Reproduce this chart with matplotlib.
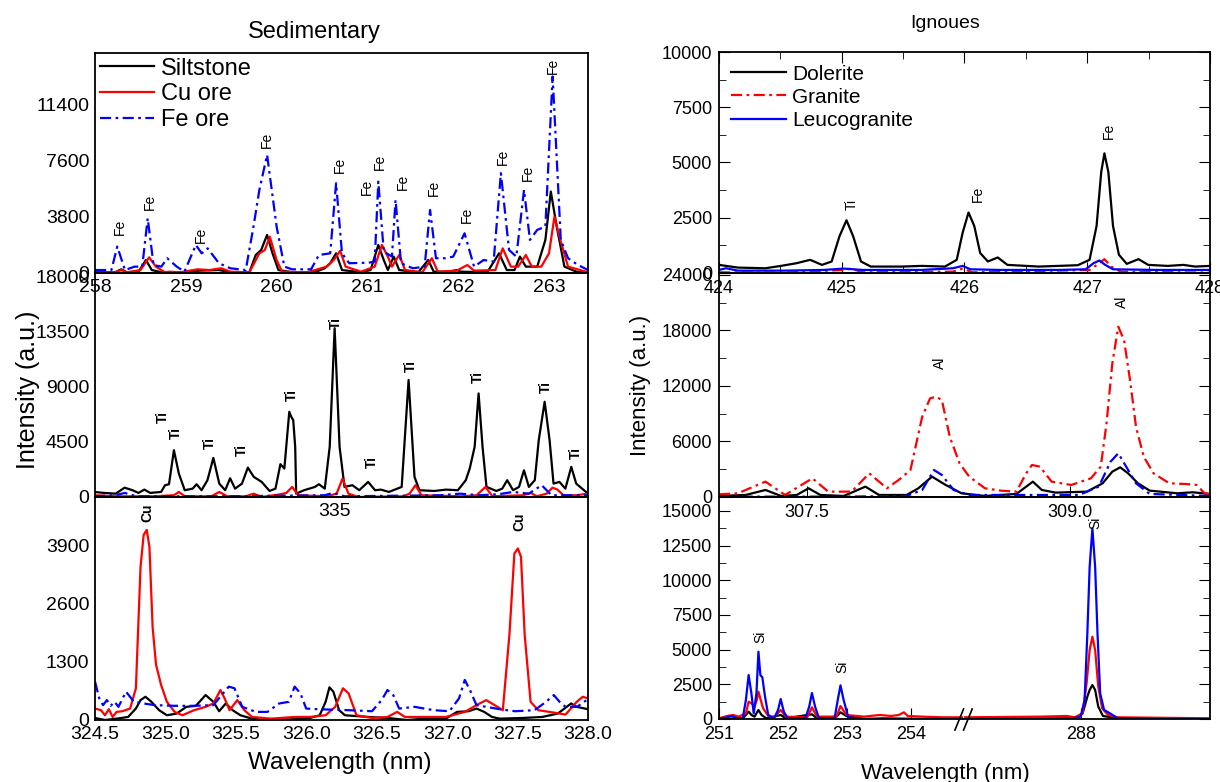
import matplotlib
matplotlib.use('Agg')
import matplotlib.pyplot as plt
from matplotlib.ticker import MultipleLocator, FixedLocator, FormatStrFormatter

plt.rcParams['font.family'] = ['Liberation Sans', 'DejaVu Sans']

# ---------------- Sedimentary : Fe region (258-263.4 nm) ----------------
fe_wl_silt = [258.0, 258.22, 258.29, 258.35, 258.48, 258.56, 258.625, 258.73, 258.985, 259.15,
              259.365, 259.49, 259.70, 259.77, 259.83, 259.895, 259.955, 260.02, 260.17, 260.42,
              260.53, 260.59, 260.655, 260.72, 260.93, 261.035, 261.12, 261.18, 261.225, 261.29,
              261.35, 261.56, 261.67, 261.73, 261.90, 261.985, 262.03, 262.32, 262.45, 262.535,
              262.62, 262.68, 262.745, 262.87, 262.96, 263.02, 263.085, 263.17, 263.30, 263.43]
fe_int_silt = [50, 50, 250, 50, 90, 880, 200, 50, 50, 160,
               200, 50, 50, 1220, 1560, 2580, 1330, 200, 50, 50,
               320, 660, 1330, 200, 50, 200, 1900, 880, 200, 1110,
               200, 50, 880, 90, 90, 200, 90, 50, 1330, 200,
               200, 1110, 430, 430, 2240, 5520, 3140, 430, 90, 0]

fe_wl_cu = [258.0, 258.22, 258.29, 258.35, 258.50, 258.596, 258.67, 258.77, 258.815, 258.94,
            259.13, 259.26, 259.39, 259.49, 259.70, 259.81, 259.87, 259.925, 260.0, 260.06,
            260.34, 260.55, 260.63, 260.70, 260.76, 260.93, 261.08, 261.16, 261.225, 261.27,
            261.35, 261.415, 261.605, 261.71, 261.775, 261.985, 262.10, 262.175, 262.41, 262.49,
            262.58, 262.66, 262.745, 262.81, 262.915, 263.0, 263.06, 263.125, 263.21, 263.43]
fe_int_cu = [0, 50, 200, 50, 200, 1060, 430, 50, 90, 50,
             250, 200, 320, 90, 50, 1330, 1560, 2460, 880, 90,
             50, 430, 880, 1510, 430, 90, 430, 1900, 1110, 430,
             1220, 200, 50, 1000, 90, 160, 540, 160, 200, 1670,
             430, 430, 1220, 430, 430, 1330, 3820, 2240, 430, 50]

fe_wl_fe = [258.0, 258.18, 258.245, 258.33, 258.435, 258.52, 258.58, 258.645, 258.73, 258.795,
            258.90, 258.985, 259.11, 259.175, 259.24, 259.365, 259.49, 259.66, 259.745, 259.81,
            259.895, 260.0, 260.085, 260.17, 260.38, 260.465, 260.59, 260.655, 260.72, 260.80,
            261.015, 261.08, 261.12, 261.18, 261.27, 261.31, 261.37, 261.50, 261.63, 261.69,
            261.755, 261.86, 261.945, 262.07, 262.175, 262.28, 262.39, 262.47, 262.56, 262.64,
            262.725, 262.79, 262.87, 262.96, 263.04, 263.13, 263.21, 263.32, 263.43]
fe_int_fe = [200, 200, 1790, 200, 430, 430, 3710, 540, 430, 1000,
             430, 90, 1900, 1330, 1670, 660, 320, 200, 3140, 5630,
             8000, 3140, 430, 250, 250, 1220, 1330, 6080, 1330, 660,
             700, 770, 6190, 1450, 1110, 4950, 660, 320, 430, 4270,
             1000, 1000, 1110, 2690, 430, 880, 770, 6760, 1560, 1110,
             5630, 2240, 2920, 3140, 13310, 2240, 1000, 540, 200]

fe_lbl_x = [258.27, 258.60, 259.17, 259.89, 260.70, 260.99, 261.14, 261.39, 261.73, 262.09, 262.49, 262.77, 263.04]
fe_lbl_y = [3140, 4840, 2580, 9020, 7330, 5860, 7550, 6200, 5750, 3940, 7890, 6760, 14000]

# ---------------- Sedimentary : Ti region (around 335 nm) ----------------
ti_wl_silt = [332.56, 332.66, 332.78, 332.87, 332.95, 333.01, 333.07, 333.13, 333.24, 333.28,
              333.32, 333.37, 333.42, 333.48, 333.56, 333.60, 333.65, 333.71, 333.77, 333.83,
              333.89, 333.94, 333.99, 334.06, 334.12, 334.18, 334.26, 334.34, 334.40, 334.45,
              334.49, 334.54, 334.56, 334.58, 334.60, 334.61, 334.69, 334.80, 334.84, 334.90,
              334.95, 335.0, 335.05, 335.10, 335.18, 335.25, 335.34, 335.41, 335.47, 335.55,
              335.68, 335.75, 335.81, 335.86, 336.01, 336.13, 336.25, 336.33, 336.37, 336.42,
              336.46, 336.50, 336.54, 336.64, 336.70, 336.75, 336.81, 336.87, 336.92, 336.97,
              337.03, 337.07, 337.13, 337.18, 337.22, 337.28, 337.34, 337.40, 337.45, 337.57]
ti_int_silt = [410, 330, 270, 760, 550, 330, 600, 330, 410, 960,
               1040, 3820, 1910, 550, 680, 1040, 550, 1370, 3190, 1090,
               550, 1530, 680, 1090, 2400, 1640, 1230, 490, 680, 2680,
               2320, 6960, 6550, 6280, 4100, 270, 550, 820, 1040, 680,
               4100, 13790, 4100, 820, 960, 550, 1230, 550, 600, 410,
               820, 9560, 1640, 550, 490, 600, 550, 1370, 2320, 4100,
               8460, 4100, 820, 490, 680, 1370, 550, 820, 2180, 820,
               1370, 4640, 7780, 4640, 1090, 1230, 680, 2460, 1090, 270]

ti_wl_cu = [332.56, 332.78, 333.17, 333.37, 333.42, 333.48, 333.75, 333.83, 333.91, 334.10,
            334.18, 334.26, 334.45, 334.51, 334.57, 334.63, 334.92, 335.02, 335.08, 335.14,
            335.24, 335.70, 335.76, 335.82, 335.88, 336.29, 336.44, 336.53, 336.60, 336.91,
            336.99, 337.05, 337.15, 337.21, 337.26, 337.32, 337.45, 337.57]
ti_int_cu = [140, 55, 55, 140, 410, 55, 55, 410, 55, 55,
             270, 0, 220, 330, 820, 140, 55, 270, 1500, 270,
             0, 55, 270, 960, 140, 55, 140, 820, 55, 140,
             330, 55, 270, 760, 600, 140, 140, 270]

ti_wl_fe = [332.56, 332.78, 332.87, 332.99, 333.93, 334.90, 334.98, 335.10, 336.08, 336.27,
            336.47, 336.66, 336.81, 336.97, 337.10, 337.20, 337.57]
ti_int_fe = [55, 140, 330, 55, 55, 140, 330, 55, 140, 270,
             140, 220, 410, 270, 960, 140, 140]

ti_lbl_x = [333.26, 333.39, 333.73, 334.06, 334.57, 335.01, 335.38, 335.77, 336.45, 337.14, 337.45]
ti_lbl_y = [6570, 5210, 4390, 3850, 8350, 14200, 2890, 10720, 9840, 9020, 3570]

# ---------------- Sedimentary : Cu region (324.5-328 nm) ----------------
cu_wl_silt = [324.50, 324.57, 324.653, 324.735, 324.79, 324.823, 324.858, 324.90, 324.955, 325.01,
              325.079, 325.148, 325.216, 325.285, 325.34, 325.381, 325.428, 325.477, 325.532, 325.614,
              325.696, 325.889, 326.026, 326.095, 326.137, 326.164, 326.192, 326.233, 326.274, 326.439,
              326.576, 326.714, 326.85, 326.99, 327.07, 327.153, 327.208, 327.263, 327.318, 327.373,
              327.537, 327.675, 327.785, 327.88, 327.92, 328.0]
cu_int_silt = [45, 0, 30, 68, 256, 445, 520, 407, 219, 106,
               143, 294, 317, 558, 407, 196, 369, 219, 106, 30,
               0, 15, 45, 106, 407, 731, 633, 219, 106, 68,
               45, 0, 30, 30, 181, 196, 256, 181, 68, 30,
               45, 68, 143, 369, 294, 241]

cu_wl_cu = [324.50, 324.543, 324.57, 324.598, 324.625, 324.653, 324.694, 324.749, 324.79, 324.823,
            324.845, 324.867, 324.886, 324.909, 324.933, 324.969, 325.01, 325.065, 325.12, 325.203,
            325.285, 325.34, 325.39, 325.42, 325.455, 325.51, 325.56, 325.614, 325.75, 325.916,
            326.026, 326.137, 326.205, 326.26, 326.30, 326.356, 326.466, 326.576, 326.645, 326.70,
            326.85, 326.99, 327.125, 327.208, 327.277, 327.345, 327.395, 327.442, 327.477, 327.502,
            327.524, 327.55, 327.592, 327.647, 327.757, 327.84, 327.92, 327.963, 328.0]
cu_int_cu = [256, 219, 106, 241, 68, 181, 196, 256, 709, 3423,
             4140, 4253, 3876, 2066, 1237, 784, 407, 181, 106, 219,
             294, 369, 671, 482, 219, 445, 219, 68, 30, 68,
             68, 106, 294, 709, 596, 106, 45, 68, 181, 68,
             68, 68, 181, 332, 445, 317, 219, 1915, 3725, 3838,
             3649, 1915, 407, 219, 166, 121, 407, 520, 483]

cu_wl_fe = [324.50, 324.53, 324.557, 324.584, 324.611, 324.639, 324.666, 324.72, 324.776, 324.845,
            324.927, 325.065, 325.203, 325.34, 325.409, 325.45, 325.49, 325.545, 325.642, 325.724,
            325.807, 325.876, 325.917, 325.958, 325.999, 326.081, 326.301, 326.466, 326.535, 326.576,
            326.617, 326.659, 326.768, 326.906, 327.016, 327.084, 327.125, 327.167, 327.208, 327.373,
            327.483, 327.620, 327.702, 327.757, 327.798, 327.84, 327.922, 328.0]
cu_int_fe = [860, 483, 332, 445, 317, 407, 294, 633, 407, 369,
             332, 317, 317, 332, 596, 747, 709, 294, 181, 181,
             369, 407, 747, 596, 256, 241, 219, 196, 445, 671,
             558, 256, 294, 219, 196, 483, 897, 633, 332, 241,
             196, 219, 407, 558, 407, 294, 294, 467]

cu_lbl_x = [324.87, 327.51]
cu_lbl_y = [4630, 4440]

# ---------------- Igneous : 424-428 nm ----------------
ig_wl_dol = [424.0, 424.154, 424.377, 424.505, 424.632, 424.743, 424.839, 424.918, 424.982, 425.039,
             425.093, 425.157, 425.237, 425.491, 425.65, 425.841, 425.937, 425.985, 426.033, 426.08,
             426.128, 426.191, 426.271, 426.35, 426.605, 426.923, 427.019, 427.076, 427.114, 427.14,
             427.172, 427.21, 427.258, 427.322, 427.417, 427.497, 427.656, 427.783, 427.879, 428.0]
ig_int_dol = [367, 245, 214, 321, 443, 596, 367, 520, 1667, 2385,
              1667, 520, 291, 291, 321, 291, 596, 1820, 2737, 2125,
              902, 520, 703, 367, 291, 352, 596, 2125, 4572, 5413,
              4572, 2125, 826, 413, 627, 367, 321, 367, 291, 321]

ig_wl_gra = [424.0, 424.536, 425.014, 425.078, 425.173, 425.905, 425.985, 426.065, 427.019, 427.099,
             427.14, 427.194, 427.274, 428.0]
ig_int_gra = [31, 15, 138, 199, 31, 61, 199, 31, 138, 443,
              627, 291, 61, 15]

ig_wl_leu = [424.0, 424.058, 424.154, 424.536, 424.855, 425.014, 425.173, 425.65, 425.905, 425.985,
             426.049, 426.288, 426.765, 426.988, 427.051, 427.099, 427.147, 427.21, 427.561, 428.0]
ig_int_leu = [138, 214, 107, 107, 138, 199, 138, 138, 214, 321,
              168, 138, 138, 168, 443, 566, 367, 168, 138, 138]

ig_lbl_text = ['Ti', 'Fe', 'Fe']
ig_lbl_x = [425.08, 426.11, 427.18]
ig_lbl_y = [3120, 3580, 6420]

# ---------------- Igneous : Al region (307-309.8 nm) ----------------
al_wl_dol = [307.0, 307.153, 307.265, 307.354, 307.444, 307.511, 307.578, 307.712, 307.835, 307.913,
             308.07, 308.137, 308.215, 308.293, 308.383, 308.517, 308.696, 308.752, 308.79, 308.841,
             308.92, 309.098, 309.188, 309.243, 309.288, 309.333, 309.389, 309.456, 309.613, 309.702, 309.8]
al_int_dol = [108, 216, 756, 108, 216, 936, 216, 108, 1116, 216,
              216, 936, 2196, 1296, 396, 108, 324, 1116, 1656, 756,
              468, 576, 1476, 2736, 3204, 2556, 1476, 684, 396, 504, 324]

al_wl_gra = [307.0, 307.108, 307.265, 307.377, 307.533, 307.623, 307.757, 307.857, 307.958, 308.025,
             308.092, 308.159, 308.204, 308.237, 308.271, 308.316, 308.372, 308.427, 308.517, 308.606,
             308.696, 308.752, 308.785, 308.83, 308.897, 309.009, 309.121, 309.177, 309.21, 309.243,
             309.277, 309.31, 309.344, 309.378, 309.422, 309.478, 309.568, 309.657, 309.724, 309.769, 309.8]
al_int_gra = [288, 396, 1656, 216, 2016, 576, 576, 2556, 936, 1836,
              2916, 8676, 10656, 10836, 10476, 6516, 3636, 2196, 936, 684,
              576, 2556, 3456, 3276, 1656, 1296, 2016, 3276, 7956, 14436,
              18396, 16956, 12636, 7596, 4356, 2556, 1476, 1404, 1296, 396, 288]

al_wl_leu = [307.0, 307.712, 308.07, 308.159, 308.226, 308.271, 308.338, 308.427, 308.83, 309.054,
             309.166, 309.233, 309.277, 309.322, 309.378, 309.456, 309.8]
al_int_leu = [36, 36, 108, 756, 2916, 2376, 756, 216, 216, 216,
              1116, 3816, 4716, 3276, 1476, 324, 108]

al_lbl_x = [308.26, 309.30]
al_lbl_y = [14490, 21100]

# ---------------- Igneous : Si region (broken axis 251-254.8 | 286.2-290) ----------------
si_wl_dol = [251.0, 251.372, 251.421, 251.464, 251.507, 251.556, 251.617, 251.666, 251.739, 251.965,
             252.044, 252.453, 252.532, 252.838, 252.899, 252.99, 253.265, 254.8,
             286.16, 287.902, 288.026, 288.099, 288.135, 288.178, 288.221, 288.27, 288.343, 288.575, 290.0]
si_int_dol = [0, 48, 288, 528, 288, 168, 648, 288, 48, 288,
              48, 336, 48, 168, 480, 216, 0, 0,
              0, 48, 408, 1608, 2088, 2448, 2088, 888, 216, 48, 0]

si_wl_gra = [251.0, 251.128, 251.22, 251.311, 251.421, 251.464, 251.507, 251.556, 251.592, 251.617,
             251.653, 251.69, 251.77, 251.861, 251.965, 252.044, 252.38, 252.453, 252.532, 252.838,
             252.899, 252.99, 253.265, 253.51, 253.69, 253.81, 253.89, 253.95, 254.18, 254.49, 254.8,
             286.16, 287.353, 287.78, 287.902, 288.026, 288.087, 288.135, 288.178, 288.221, 288.27,
             288.331, 288.422, 288.575, 290.0]
si_int_gra = [48, 216, 288, 168, 408, 1248, 1128, 888, 1368, 1968,
              1368, 768, 216, 120, 648, 168, 120, 840, 168, 168,
              936, 288, 168, 288, 216, 288, 480, 216, 168, 120, 120,
              120, 168, 216, 120, 408, 2568, 4968, 5928, 4968, 2328,
              768, 288, 120, 48]

si_wl_leu = [251.0, 251.128, 251.20, 251.28, 251.372, 251.421, 251.464, 251.507, 251.543, 251.586,
             251.617, 251.647, 251.678, 251.72, 251.77, 251.861, 251.923, 251.965, 252.013, 252.075,
             252.35, 252.41, 252.453, 252.502, 252.563, 252.807, 252.856, 252.899, 252.948, 253.02,
             253.265, 253.57, 254.18, 254.8,
             286.16, 287.84, 287.995, 288.056, 288.099, 288.135, 288.178, 288.221, 288.258, 288.30,
             288.361, 288.453, 288.575, 289.186, 290.0]
si_int_leu = [0, 120, 216, 48, 48, 1368, 3168, 1848, 408, 1848,
              4848, 3168, 3000, 1608, 288, 48, 648, 1440, 528, 48,
              48, 888, 1872, 888, 48, 48, 1368, 2424, 1368, 120,
              0, 48, 0, 0,
              0, 0, 168, 1368, 6168, 10968, 13728, 10968, 6168, 1848,
              648, 408, 48, 0, 0]

si_lbl_x = [251.64, 252.92, 288.23]
si_lbl_y = [5900, 3750, 14120]

# ---------------- drawing ----------------
BLUE_DD = (0, (5, 2, 1.2, 2))
LW = 1.6

fig = plt.figure(figsize=(12.2, 7.82), dpi=100)


def left_style(ax):
    ax.set_facecolor('none')
    ax.tick_params(length=0, labelsize=14, pad=4)
    for s in ax.spines.values():
        s.set_linewidth(1.3)


def right_style(ax, major, minor):
    ax.set_facecolor('none')
    ax.yaxis.set_major_locator(MultipleLocator(major))
    ax.yaxis.set_minor_locator(MultipleLocator(minor))
    ax.tick_params(which='both', direction='in', right=True, labelsize=13)
    ax.tick_params(which='major', length=8, pad=5)
    ax.tick_params(which='minor', length=5)
    for s in ax.spines.values():
        s.set_linewidth(1.3)


# left column
axL3 = fig.add_axes([0.0779, 0.0793, 0.4041, 0.2852])
axL2 = fig.add_axes([0.0779, 0.3645, 0.4041, 0.2864])
axL1 = fig.add_axes([0.0779, 0.6509, 0.4041, 0.2813])

axL1.plot(fe_wl_silt, fe_int_silt, color='black', lw=LW, label='Siltstone')
axL1.plot(fe_wl_cu, fe_int_cu, color='red', lw=LW, label='Cu ore')
axL1.plot(fe_wl_fe, fe_int_fe, color='blue', lw=LW, ls=BLUE_DD, label='Fe ore')
axL1.set_xlim(258, 263.43)
axL1.set_ylim(0, 14900)
axL1.xaxis.set_major_locator(MultipleLocator(1))
axL1.yaxis.set_major_locator(MultipleLocator(3800))
for x, y in zip(fe_lbl_x, fe_lbl_y):
    axL1.text(x, y, 'Fe', rotation=90, ha='center', va='center', fontsize=10)
axL1.legend(loc='upper left', frameon=False, fontsize=17, handlelength=2.3,
            handletextpad=0.3, labelspacing=0.15, borderaxespad=0.1, borderpad=0.1)
left_style(axL1)

axL2.plot(ti_wl_silt, ti_int_silt, color='black', lw=LW)
axL2.plot(ti_wl_cu, ti_int_cu, color='red', lw=LW)
axL2.plot(ti_wl_fe, ti_int_fe, color='blue', lw=LW, ls=BLUE_DD)
axL2.set_xlim(332.57, 337.57)
axL2.set_ylim(0, 18300)
axL2.xaxis.set_major_locator(MultipleLocator(5))
axL2.yaxis.set_major_locator(MultipleLocator(4500))
for x, y in zip(ti_lbl_x, ti_lbl_y):
    axL2.text(x, y, 'Ti', rotation=90, ha='center', va='center', fontsize=10, fontweight='bold')
left_style(axL2)

axL3.plot(cu_wl_silt, cu_int_silt, color='black', lw=LW)
axL3.plot(cu_wl_cu, cu_int_cu, color='red', lw=LW)
axL3.plot(cu_wl_fe, cu_int_fe, color='blue', lw=LW, ls=BLUE_DD)
axL3.set_xlim(324.5, 328.0)
axL3.set_ylim(0, 4990)
axL3.xaxis.set_major_locator(MultipleLocator(0.5))
axL3.xaxis.set_major_formatter(FormatStrFormatter('%.1f'))
axL3.yaxis.set_major_locator(MultipleLocator(1300))
for x, y in zip(cu_lbl_x, cu_lbl_y):
    axL3.text(x, y, 'Cu', rotation=90, ha='center', va='center', fontsize=10, fontweight='bold')
left_style(axL3)

# right column
axR3a = fig.add_axes([0.5893, 0.0806, 0.2004, 0.2839])
axR3b = fig.add_axes([0.7898, 0.0806, 0.2020, 0.2839])
axR2 = fig.add_axes([0.5893, 0.3645, 0.4025, 0.2864])
axR1 = fig.add_axes([0.5893, 0.6509, 0.4025, 0.2826])

axR1.plot(ig_wl_dol, ig_int_dol, color='black', lw=LW, label='Dolerite')
axR1.plot(ig_wl_gra, ig_int_gra, color='red', lw=LW, ls=BLUE_DD, label='Granite')
axR1.plot(ig_wl_leu, ig_int_leu, color='blue', lw=LW, label='Leucogranite')
axR1.set_xlim(424, 428)
axR1.set_ylim(0, 10000)
axR1.xaxis.set_major_locator(MultipleLocator(1))
axR1.xaxis.set_minor_locator(MultipleLocator(0.5))
right_style(axR1, 2500, 1250)
axR1.tick_params(which='both', top=True)
for t, x, y in zip(ig_lbl_text, ig_lbl_x, ig_lbl_y):
    axR1.text(x, y, t, rotation=90, ha='center', va='center', fontsize=10)
axR1.legend(loc='upper left', frameon=False, fontsize=15, handlelength=2.6,
            handletextpad=0.3, labelspacing=0.2, borderaxespad=0.3, borderpad=0.3)

axR2.plot(al_wl_dol, al_int_dol, color='black', lw=LW)
axR2.plot(al_wl_gra, al_int_gra, color='red', lw=LW, ls=BLUE_DD)
axR2.plot(al_wl_leu, al_int_leu, color='blue', lw=LW, ls=BLUE_DD)
axR2.set_xlim(307.0, 309.8)
axR2.set_ylim(0, 24200)
axR2.xaxis.set_major_locator(MultipleLocator(1.5))
axR2.xaxis.set_major_formatter(FormatStrFormatter('%.1f'))
right_style(axR2, 6000, 3000)
for x, y in zip(al_lbl_x, al_lbl_y):
    axR2.text(x, y, 'Al', rotation=90, ha='center', va='center', fontsize=10)

for ax in (axR3a, axR3b):
    ax.plot(si_wl_dol, si_int_dol, color='black', lw=LW)
    ax.plot(si_wl_gra, si_int_gra, color='red', lw=LW)
    ax.plot(si_wl_leu, si_int_leu, color='blue', lw=LW)
    ax.set_ylim(0, 16000)
    right_style(ax, 2500, 1250)
axR3a.set_xlim(251, 254.82)
axR3b.set_xlim(286.16, 290.02)
for x, y in zip(si_lbl_x, si_lbl_y):
    target = axR3a if x < 260 else axR3b
    target.text(x, y, 'Si', rotation=90, ha='center', va='center', fontsize=10)
axR3a.xaxis.set_major_locator(MultipleLocator(1))
axR3b.xaxis.set_major_locator(FixedLocator([288]))
axR3a.spines['right'].set_visible(False)
axR3a.tick_params(which='both', right=False)
axR3b.spines['left'].set_visible(False)
axR3b.tick_params(which='both', left=False, labelleft=False)
# axis break marks
for dx in (-0.035, 0.0):
    axR3b.plot([dx, dx + 0.035], [-0.05, 0.045], color='black', lw=1.2,
               transform=axR3b.transAxes, clip_on=False)

# figure texts
fig.text(0.258, 0.959, 'Sedimentary', ha='center', va='center', fontsize=17)
fig.text(0.7746, 0.970, 'Ignoues', ha='center', va='center', fontsize=14)
fig.text(0.023, 0.501, 'Intensity (a.u.)', rotation=90, ha='center', va='center', fontsize=18)
fig.text(0.5246, 0.5077, 'Intensity (a.u.)', rotation=90, ha='center', va='center', fontsize=16)
fig.text(0.2787, 0.0245, 'Wavelength (nm)', ha='center', va='center', fontsize=17.5)
fig.text(0.7746, 0.0115, 'Wavelength (nm)', ha='center', va='center', fontsize=16)

fig.savefig('out.png', dpi=100)
